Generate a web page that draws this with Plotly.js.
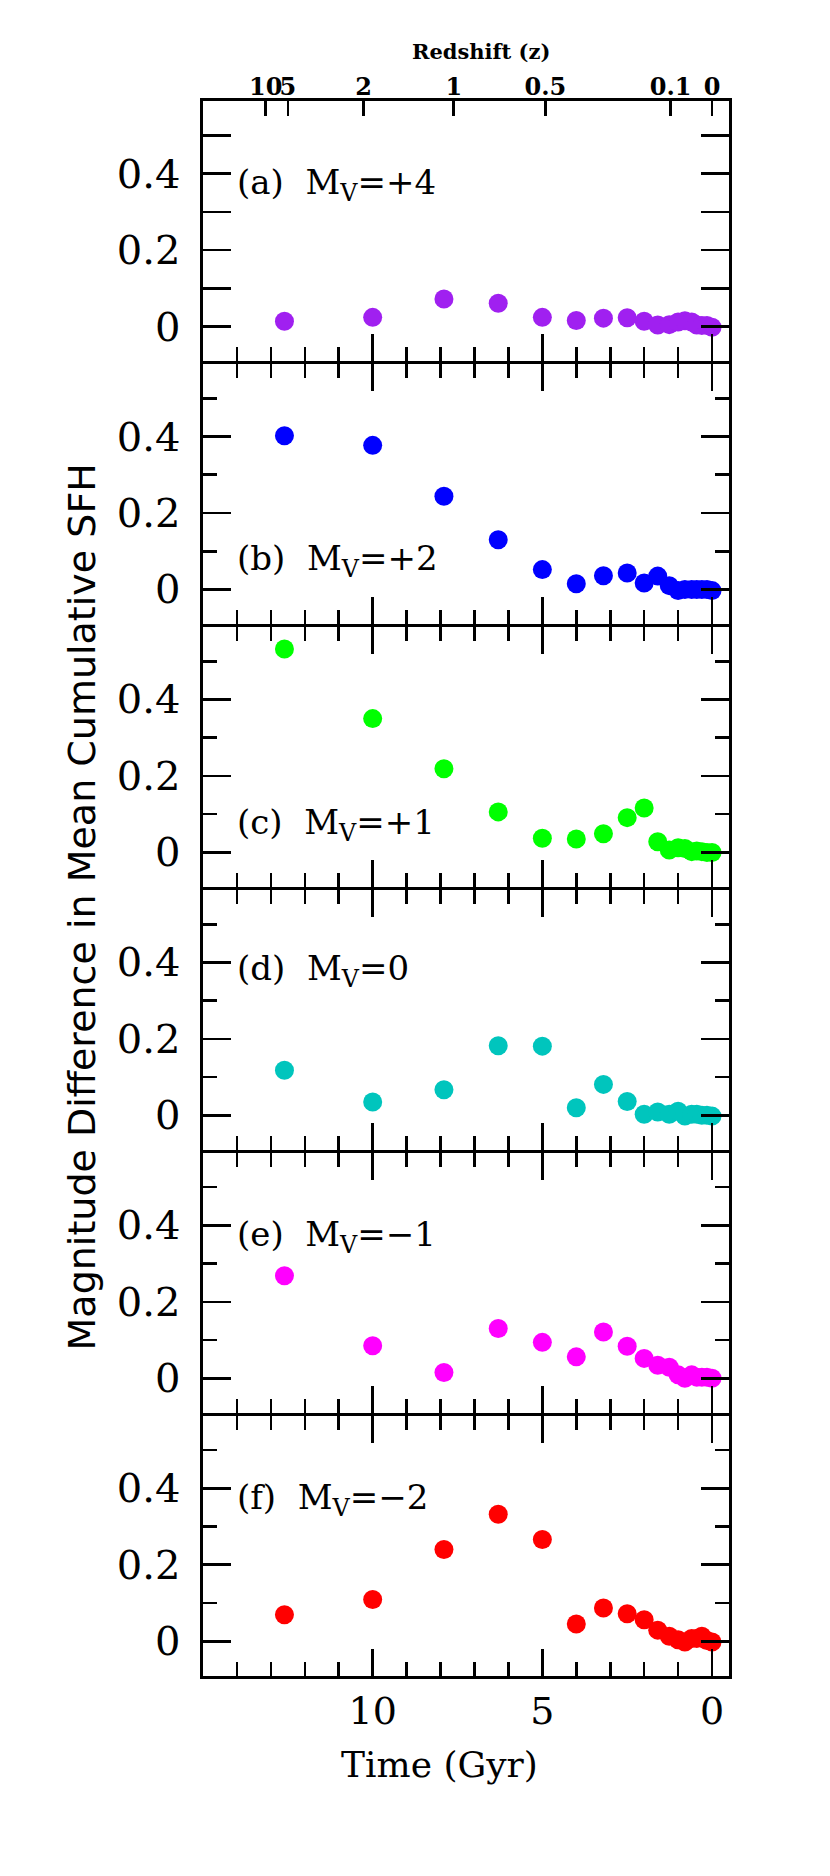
<!DOCTYPE html>
<html>
<head>
<meta charset="utf-8">
<script src="https://cdn.plot.ly/plotly-3.0.1.min.js"></script>
<style>
  html, body { margin: 0; padding: 0; background: #ffffff; }
  #chart { width: 830px; height: 1876px; }
</style>
</head>
<body>
<div id="chart"></div>
<script>
// Lookback time of each age bin (Gyr), shared by all panels
const timeGyr = [12.6, 10.0, 7.9, 6.3, 5.0, 4.0, 3.2, 2.5, 2.0, 1.6, 1.26, 1.0, 0.8, 0.6, 0.45, 0.3, 0.15, 0.0];

// Magnitude difference in mean cumulative SFH, one array per panel
const panelA = [0.014, 0.024, 0.072, 0.061, 0.024, 0.016, 0.022, 0.023, 0.014, 0.004, 0.005, 0.012, 0.015, 0.012, 0.004, 0.003, 0.003, -0.002];
const panelB = [0.402, 0.377, 0.244, 0.130, 0.052, 0.015, 0.036, 0.043, 0.017, 0.035, 0.010, -0.003, 0.0, 0.0, 0.0, 0.0, 0.0, -0.003];
const panelC = [0.532, 0.350, 0.219, 0.106, 0.037, 0.035, 0.049, 0.091, 0.116, 0.028, 0.006, 0.012, 0.010, 0.002, 0.004, 0.002, 0.0, 0.0];
const panelD = [0.118, 0.035, 0.067, 0.182, 0.181, 0.020, 0.081, 0.036, 0.003, 0.009, 0.003, 0.011, -0.002, 0.003, 0.003, 0.0, 0.0, -0.002];
const panelE = [0.268, 0.085, 0.015, 0.130, 0.094, 0.056, 0.121, 0.084, 0.052, 0.034, 0.029, 0.009, 0.0, 0.009, 0.003, 0.003, 0.003, 0.0];
const panelF = [0.069, 0.109, 0.240, 0.332, 0.266, 0.045, 0.087, 0.072, 0.056, 0.029, 0.013, 0.004, -0.002, 0.007, 0.007, 0.013, 0.002, -0.002];

const panelSeries = [panelA, panelB, panelC, panelD, panelE, panelF];
const panelLabels = ['(a)  M<sub>V</sub>=+4', '(b)  M<sub>V</sub>=+2', '(c)  M<sub>V</sub>=+1',
                     '(d)  M<sub>V</sub>=0', '(e)  M<sub>V</sub>=\u22121', '(f)  M<sub>V</sub>=\u22122'];
const panelLabelY = [0.372, 0.076, 0.073, 0.378, 0.372, 0.372];
const panelColors = ['#a020f0', '#0000ff', '#00ff00', '#00c5bd', '#ff00ff', '#ff0000'];

// Top axis: redshift labels at their lookback times
const redshiftLabels = ['10', '5', '2', '1', '0.5', '0.1', '0'];
const redshiftTimes = [13.15, 12.5, 10.27, 7.61, 4.91, 1.22, 0.0];

const timeTicks = [10, 5, 0];
const timeMinor = [14, 13, 12, 11, 9, 8, 7, 6, 4, 3, 2, 1];
const yTicks = [0, 0.2, 0.4];
const yMinor = [0.1, 0.3, 0.5];

const serif = 'DejaVu Serif, Liberation Serif, serif';
const lineW = 2.6;

const plotH = 1575;   // pixel height of the stacked plot area
const nPanels = panelSeries.length;
// leave a gap of one line width so adjacent frame lines fall on top of each other
const panelH = (plotH - (nPanels - 1) * lineW) / nPanels;

const traces = [];
const layout = {
    width: 830,
    height: 1876,
    margin: { l: 203, r: 101, t: 101, b: 200 },
    paper_bgcolor: '#ffffff',
    plot_bgcolor: '#ffffff',
    showlegend: false,
    annotations: [],
};

for (let i = 0; i < nPanels; i++) {
    const n = i + 1;
    const xName = n === 1 ? 'x' : 'x' + n;
    const yName = n === 1 ? 'y' : 'y' + n;
    const top = 1 - i * (panelH + lineW) / plotH;
    const bottom = top - panelH / plotH;

    traces.push({
        x: timeGyr,
        y: panelSeries[i],
        xaxis: xName,
        yaxis: yName,
        type: 'scatter',
        mode: 'markers',
        marker: { color: panelColors[i], size: 19, line: { width: 0 } },
        hoverinfo: 'x+y',
    });

    layout[n === 1 ? 'xaxis' : 'xaxis' + n] = {
        range: [15, -0.5],
        anchor: yName,
        domain: [0, 1],
        tickmode: 'array',
        tickvals: timeTicks,
        ticktext: timeTicks.map(String),
        ticks: 'inside',
        ticklen: 27,
        tickwidth: lineW,
        tickcolor: '#000',
        minor: { tickmode: 'array', tickvals: timeMinor, ticks: 'inside', ticklen: 14, tickwidth: lineW, tickcolor: '#000', showgrid: false },
        showline: true,
        linewidth: lineW,
        linecolor: '#000',
        mirror: n === 1 ? true : 'allticks',
        showgrid: false,
        zeroline: false,
        showticklabels: n === nPanels,
        ticklabelstandoff: 0,
        tickfont: { family: serif, size: 38, color: '#000' },
    };

    layout[n === 1 ? 'yaxis' : 'yaxis' + n] = {
        range: [-0.091, 0.59],
        anchor: xName,
        domain: [bottom, top],
        tickmode: 'array',
        tickvals: yTicks,
        ticktext: ['0', '0.2', '0.4'],
        ticks: 'inside',
        ticklen: 28,
        tickwidth: lineW,
        tickcolor: '#000',
        minor: { tickmode: 'array', tickvals: yMinor, ticks: 'inside', ticklen: 14, tickwidth: lineW, tickcolor: '#000', showgrid: false },
        showline: true,
        linewidth: lineW,
        linecolor: '#000',
        mirror: 'allticks',
        showgrid: false,
        zeroline: false,
        ticklabelstandoff: 12,
        tickfont: { family: serif, size: 40, color: '#000' },
    };

    layout.annotations.push({
        text: panelLabels[i],
        xref: xName,
        yref: yName,
        x: 14.06,
        y: panelLabelY[i],
        xanchor: 'left',
        yanchor: 'middle',
        showarrow: false,
        font: { family: serif, size: 34, color: '#000' },
    });
}

// Redshift axis on top of panel (a)
traces.push({ x: [null], y: [null], xaxis: 'x7', yaxis: 'y', type: 'scatter', mode: 'markers', hoverinfo: 'skip' });
layout.xaxis7 = {
    range: [15, -0.5],
    overlaying: 'x',
    anchor: 'y',
    side: 'top',
    tickmode: 'array',
    tickvals: redshiftTimes,
    ticktext: redshiftLabels,
    tickangle: 0,
    ticks: 'inside',
    ticklen: 15,
    tickwidth: lineW,
    tickcolor: '#000',
    showline: false,
    showgrid: false,
    zeroline: false,
    ticklabelstandoff: 0,
    tickfont: { family: serif, size: 24, color: '#000', weight: 'bold' },
};

layout.annotations.push(
    {
        text: '<b>Redshift (z)</b>',
        xref: 'paper', yref: 'paper',
        x: 0.5285, y: 1.0317,
        xanchor: 'center', yanchor: 'middle',
        showarrow: false,
        font: { family: serif, size: 21, color: '#000' },
    },
    {
        text: 'Time (Gyr)',
        xref: 'paper', yref: 'paper',
        x: 0.45, y: -0.0565,
        xanchor: 'center', yanchor: 'middle',
        showarrow: false,
        font: { family: serif, size: 36, color: '#000' },
    },
    {
        text: 'Magnitude Difference in Mean Cumulative SFH',
        xref: 'paper', yref: 'paper',
        x: -0.23, y: 0.488,
        xanchor: 'center', yanchor: 'middle',
        textangle: -90,
        showarrow: false,
        font: { family: 'DejaVu Sans, sans-serif', size: 38, color: '#000' },
    }
);

Plotly.newPlot('chart', traces, layout, { displayModeBar: false, staticPlot: true });
</script>
</body>
</html>
